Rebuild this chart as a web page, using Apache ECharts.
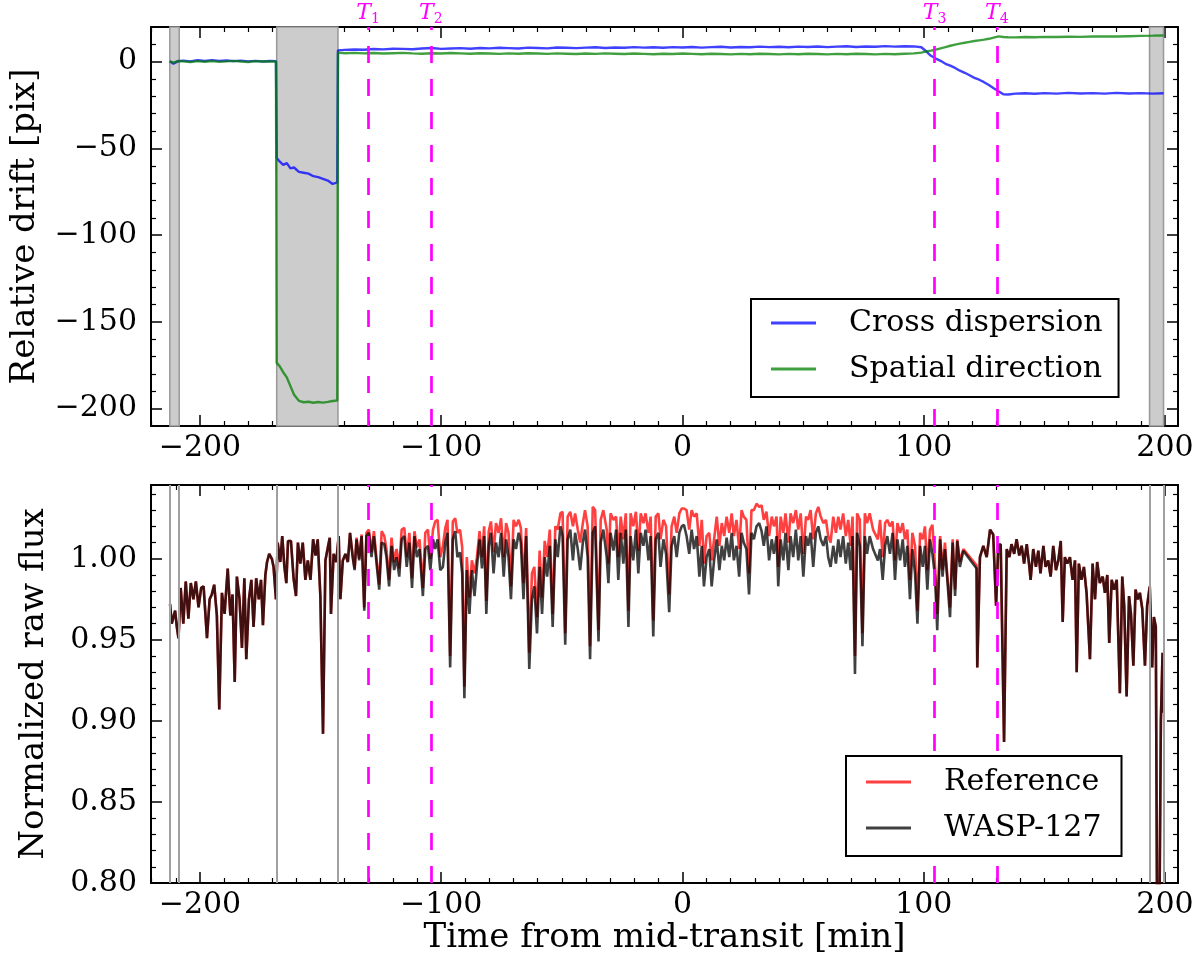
<!DOCTYPE html>
<html>

<head>
	<meta charset="UTF-8">
	<title>WASP-127 drift and raw flux</title>
	<style>
		html, body {
			margin: 0;
			padding: 0;
			background: #fff;
		}
		#chart {
			width: 1200px;
			height: 977px;
		}
	</style>
	<script src="https://cdn.jsdelivr.net/npm/echarts@6/dist/echarts.min.js"></script>
</head>

<body>
	<div id="chart"></div>
	<script>
		// ---- top panel: relative drift [pix] ----
		var driftTime = [
			-212.5, -211, -209, -207, -204, -201, -198, -195, -192, -189,
			-186, -183, -180, -177, -174, -171, -168.5, -168.2, -167, -165.5,
			-164, -162.5, -161, -159, -157, -155, -153, -151, -149, -147,
			-145, -143.1, -142.8, -140, -136, -132, -128, -124, -120, -116,
			-112, -108, -104, -100, -96, -92, -88, -84, -80, -76,
			-72, -68, -64, -60, -56, -52, -48, -44, -40, -36,
			-32, -28, -24, -20, -16, -12, -8, -4, 0, 4,
			8, 12, 16, 20, 24, 28, 32, 36, 40, 44,
			48, 52, 56, 60, 64, 68, 72, 76, 80, 84,
			88, 92, 96, 99, 101, 103, 105, 107, 109, 111,
			113, 115, 117, 119, 121, 123, 125, 127, 129, 131,
			133, 135, 138, 142, 146, 150, 155, 160, 165, 170,
			175, 180, 185, 190, 195, 199.4
		];
		var crossDispersion = [
			0.2, -1.2, 0.3, 0.6, 0.2, 0.8, 0.4, 0.9, 0.5, 0.7,
			0.3, 0.6, 0.2, 0.5, 0.1, 0.4, 0.3, -55.5, -57.5, -59.5,
			-58.5, -61.5, -61, -63.5, -64, -64.5, -66, -66.5, -67.5, -68.5,
			-70.5, -69.5, 6.5, 6.8, 7.0, 6.9, 7.3, 7.1, 7.5, 7.4,
			7.2, 7.6, 7.9, 7.4, 7.6, 7.8, 7.5, 7.9, 7.7, 8.0,
			7.8, 7.6, 8.1, 7.9, 7.7, 8.2, 8.0, 7.8, 8.1, 8.3,
			7.9, 8.2, 8.0, 8.4, 8.1, 8.3, 8.0, 8.4, 8.2, 8.5,
			8.1, 8.4, 8.6, 8.2, 8.5, 8.3, 8.7, 8.4, 8.6, 8.3,
			8.7, 8.5, 8.8, 8.4, 8.7, 8.9, 8.5, 8.8, 8.6, 9.0,
			8.7, 8.9, 8.8, 8.3, 6.0, 3.4, 1.8, 0.5, -1.2, -2.3,
			-3.6, -5.2, -6.4, -7.8, -9.3, -10.4, -11.8, -13.4, -15.3, -17.0,
			-18.8, -18.9, -18.4, -18.2, -18.5, -18.1, -18.4, -18.0, -18.3, -18.1,
			-18.4, -18.0, -18.3, -18.1, -18.4, -18.2
		];
		var spatialDirection = [
			0.1, -0.5, 0.4, 0.2, -0.2, 0.3, 0.0, 0.4, -0.1, 0.2,
			0.5, 0.1, -0.2, 0.3, 0.1, 0.2, 0.1, -173.6, -175.5, -179,
			-182, -187, -192, -195.5, -196.3, -196, -196.6, -196.2, -196.5, -196.1,
			-195.6, -195.3, 5.2, 4.9, 5.1, 4.8, 5.0, 4.7, 4.9, 5.1,
			4.8, 4.6, 4.9, 4.7, 5.0, 4.8, 4.6, 4.9, 4.7, 4.5,
			4.8, 4.6, 4.9, 4.7, 4.5, 4.8, 4.6, 4.4, 4.7, 4.5,
			4.8, 4.6, 4.4, 4.7, 4.5, 4.3, 4.6, 4.4, 4.7, 4.5,
			4.3, 4.6, 4.4, 4.2, 4.5, 4.3, 4.6, 4.4, 4.2, 4.5,
			4.3, 4.6, 4.4, 4.2, 4.5, 4.3, 4.6, 4.4, 4.2, 4.5,
			4.3, 4.6, 4.8, 5.2, 5.9, 6.4, 7.0, 7.7, 8.4, 9.2,
			9.8, 10.4, 10.9, 11.4, 11.9, 12.3, 12.7, 13.2, 13.9, 14.6,
			14.2, 14.1, 14.0, 14.2, 14.1, 14.3, 14.2, 14.4, 14.3, 14.5,
			14.6, 14.5, 14.7, 14.9, 15.0, 15.1
		];

		// ---- bottom panel: normalized raw flux ----
		var fluxTime = [
			-212.4, -211.7, -211.0, -210.3, -209.6, -208.9, -208.0, -206.9, -205.9, -204.8,
			-203.8, -202.7, -201.7, -200.6, -199.5, -198.5, -197.1, -196.0, -195.1, -194.1,
			-193.0, -192.0, -190.9, -189.8, -188.5, -187.4, -186.5, -185.6, -184.7, -183.6,
			-182.6, -181.6, -180.8, -179.7, -178.7, -177.8, -176.7, -175.6, -174.7, -173.9,
			-172.9, -172.2, -171.3, -170.2, -169.5, -168.5, -167.8, -166.7, -165.9, -165.0,
			-164.2, -163.5, -162.3, -161.2, -160.2, -159.4, -158.4, -157.4, -156.3, -155.3,
			-154.2, -153.1, -152.1, -151.2, -150.1, -149.0, -148.0, -147.0, -146.2, -145.7,
			-144.6, -143.5, -142.5, -141.8, -140.8, -139.7, -138.7, -137.8, -136.7, -135.9,
			-135.1, -134.0, -133.0, -131.9, -131.0, -130.0, -128.9, -127.9, -126.8, -125.7,
			-124.7, -123.6, -122.7, -121.6, -120.6, -119.5, -118.5, -117.4, -116.4, -115.3,
			-114.3, -113.2, -112.1, -111.1, -110.1, -109.0, -107.6, -106.6, -105.5, -104.5,
			-103.4, -102.5, -101.5, -100.4, -99.3, -98.3, -97.4, -96.3, -95.2, -94.2,
			-93.3, -92.2, -91.3, -90.4, -89.4, -88.3, -87.3, -86.2, -85.2, -84.1,
			-83.1, -82.2, -81.3, -80.3, -79.4, -78.3, -77.3, -76.2, -75.2, -74.1,
			-73.1, -72.1, -71.1, -70.0, -69.0, -67.9, -67.0, -65.9, -64.8, -63.5,
			-62.4, -61.4, -60.3, -59.2, -58.2, -57.1, -56.1, -55.0, -53.8, -52.7,
			-51.7, -50.6, -49.7, -48.6, -47.6, -46.5, -45.4, -44.5, -43.4, -42.4,
			-41.3, -40.4, -39.3, -38.3, -37.2, -36.2, -34.8, -33.9, -32.8, -31.4,
			-30.7, -29.8, -28.6, -27.5, -26.6, -25.6, -24.5, -23.5, -22.4, -21.5,
			-20.4, -19.3, -18.3, -17.3, -16.2, -15.3, -14.1, -13.2, -12.1, -11.1,
			-10.0, -9.1, -7.9, -6.8, -5.5, -4.5, -3.4, -2.4, -1.3, -0.3,
			0.6, 1.7, 2.8, 3.8, 4.8, 5.9, 7.0, 8.0, 8.9, 10.0,
			11.1, 12.1, 13.1, 14.2, 15.3, 16.3, 17.3, 18.3, 19.4, 20.4,
			21.3, 22.4, 23.5, 24.5, 25.4, 26.5, 27.6, 28.6, 29.6, 30.7,
			31.8, 32.8, 33.7, 34.8, 35.9, 37.0, 37.9, 39.0, 39.7, 40.7,
			41.8, 42.7, 43.9, 44.8, 45.9, 47.0, 48.0, 49.0, 50.1, 51.2,
			52.1, 53.1, 54.2, 55.3, 56.3, 57.3, 58.4, 59.5, 60.4, 61.4,
			62.5, 63.6, 64.6, 65.5, 66.6, 67.7, 68.7, 69.7, 70.5, 71.5,
			72.4, 73.5, 74.6, 75.6, 76.5, 77.6, 79.0, 81.0, 81.9, 83.0,
			84.0, 84.9, 86.0, 87.1, 88.1, 89.1, 90.2, 91.3, 92.2, 93.2,
			94.3, 95.3, 96.4, 97.4, 98.5, 99.6, 100.5, 101.5, 102.6, 103.6,
			104.7, 105.6, 106.8, 107.8, 108.8, 109.8, 110.9, 112.0, 113.0, 113.9,
			115.0, 116.4, 121.9, 122.2, 123.3, 124.7, 126.1, 127.5, 128.8, 130.0,
			130.9, 131.9, 133.3, 134.4, 135.5, 136.4, 137.5, 138.5, 139.6, 140.6,
			141.6, 142.7, 143.8, 144.3, 145.4, 146.5, 147.5, 148.4, 149.6, 150.5,
			151.6, 152.6, 153.7, 154.8, 155.8, 156.8, 157.6, 158.5, 159.5, 160.6,
			161.7, 162.7, 163.4, 164.3, 165.4, 166.4, 167.5, 168.9, 170.0, 171.0,
			171.9, 173.0, 174.2, 175.1, 176.1, 176.9, 177.9, 178.9, 180.0, 181.3,
			182.3, 183.1, 184.1, 185.1, 185.9, 186.9, 187.8, 188.7, 189.6, 190.6,
			191.7, 192.6, 193.7, 194.7, 195.4, 196.2, 196.9, 197.6, 198.3, 199.0,
			199.4
		];
		var waspFlux = [
			0.972, 0.960, 0.959, 0.968, 0.958, 0.951, 0.982, 0.960, 0.986, 0.963,
			0.985, 0.975, 0.986, 0.970, 0.982, 0.983, 0.951, 0.975, 0.978, 0.984,
			0.965, 0.907, 0.979, 0.966, 0.994, 0.965, 0.978, 0.924, 0.989, 0.975,
			0.945, 0.988, 0.938, 0.975, 0.987, 0.958, 0.988, 0.975, 0.987, 0.959,
			0.990, 0.998, 1.003, 1.000, 0.995, 0.975, 1.010, 0.998, 1.014, 0.995,
			0.985, 1.011, 1.011, 0.988, 0.977, 1.010, 0.997, 1.010, 0.987, 0.999,
			0.987, 1.012, 1.002, 1.012, 0.977, 0.892, 0.999, 1.007, 1.013, 0.966,
			1.003, 0.998, 1.014, 0.975, 0.999, 1.003, 0.998, 1.016, 1.001, 0.993,
			1.012, 0.999, 1.014, 0.968, 1.014, 1.016, 1.001, 1.014, 0.997, 0.981,
			1.010, 1.009, 1.001, 0.983, 1.008, 0.993, 1.001, 0.989, 1.012, 1.014,
			0.995, 1.010, 0.982, 1.014, 1.001, 1.006, 0.977, 1.006, 1.008, 0.993,
			1.012, 1.006, 1.012, 0.993, 0.995, 1.010, 1.016, 0.933, 1.012, 1.017,
			1.001, 1.004, 0.991, 0.914, 0.993, 0.966, 0.993, 0.977, 0.995, 1.012,
			0.994, 1.014, 0.966, 1.008, 1.016, 0.991, 1.010, 1.001, 1.016, 0.989,
			1.012, 1.001, 0.975, 1.012, 1.006, 1.016, 1.010, 0.975, 1.014, 0.932,
			0.975, 0.983, 0.954, 0.995, 0.966, 1.001, 0.989, 1.008, 0.958, 1.012,
			1.001, 1.020, 1.014, 0.947, 1.012, 1.018, 0.999, 1.016, 1.006, 0.993,
			1.010, 1.018, 1.001, 0.938, 1.016, 1.020, 0.949, 1.010, 1.018, 1.001,
			0.985, 1.016, 1.005, 1.018, 0.987, 1.016, 0.997, 1.018, 0.958, 1.014,
			0.999, 1.018, 0.991, 1.016, 1.008, 1.018, 0.999, 1.014, 0.952, 1.012,
			1.016, 0.995, 1.012, 1.003, 0.967, 1.008, 1.014, 1.001, 1.016, 1.020,
			1.021, 1.014, 1.003, 1.018, 1.006, 1.014, 0.989, 1.008, 0.983, 1.001,
			1.006, 0.983, 0.999, 1.012, 0.993, 1.008, 0.999, 1.013, 1.001, 1.016,
			0.999, 1.008, 0.989, 1.016, 1.010, 1.006, 0.978, 1.016, 1.012, 1.020,
			1.022, 1.017, 1.008, 1.020, 0.999, 1.012, 1.003, 1.014, 0.983, 1.012,
			0.999, 1.016, 0.993, 1.014, 1.001, 1.018, 0.999, 1.014, 0.989, 1.014,
			1.008, 1.016, 0.995, 1.016, 1.020, 1.012, 1.008, 1.014, 1.001, 0.995,
			1.008, 0.997, 1.012, 1.001, 1.014, 0.997, 1.010, 0.993, 1.014, 0.929,
			1.016, 1.008, 0.946, 1.014, 1.003, 1.014, 1.006, 0.999, 1.006, 0.987,
			1.008, 1.014, 1.003, 1.016, 0.987, 1.012, 0.999, 1.012, 0.995, 1.008,
			0.975, 1.006, 0.991, 0.960, 1.008, 0.995, 1.008, 0.981, 1.012, 1.003,
			0.989, 0.956, 1.012, 0.989, 1.006, 0.987, 0.964, 1.010, 0.977, 1.011,
			0.995, 1.005, 0.994, 0.933, 1.001, 1.008, 1.001, 1.018, 1.015, 0.971,
			1.008, 1.009, 0.887, 1.006, 1.001, 1.009, 1.003, 1.012, 1.002, 1.008,
			0.997, 1.009, 0.995, 0.987, 1.006, 0.995, 1.005, 0.991, 1.008, 0.995,
			0.999, 0.989, 1.008, 0.993, 0.999, 1.011, 0.961, 1.001, 0.997, 1.001,
			0.987, 0.999, 0.930, 0.997, 0.987, 0.995, 0.979, 0.938, 0.997, 0.975,
			0.998, 0.985, 0.989, 0.979, 0.990, 0.948, 0.987, 0.981, 0.987, 0.917,
			0.989, 0.971, 0.915, 0.977, 0.966, 0.934, 0.981, 0.975, 0.979, 0.969,
			0.934, 0.971, 0.983, 0.933, 0.964, 0.958, 0.720, 0.760, 0.900, 0.942,
			0.905
		];
		var referenceFlux = [
			0.972, 0.960, 0.959, 0.968, 0.958, 0.951, 0.982, 0.960, 0.986, 0.963,
			0.985, 0.975, 0.986, 0.970, 0.982, 0.983, 0.951, 0.975, 0.978, 0.984,
			0.965, 0.907, 0.979, 0.966, 0.994, 0.965, 0.978, 0.924, 0.989, 0.975,
			0.945, 0.988, 0.938, 0.975, 0.987, 0.958, 0.988, 0.975, 0.987, 0.959,
			0.990, 0.998, 1.003, 1.000, 0.995, 0.975, 1.010, 0.998, 1.014, 0.995,
			0.985, 1.011, 1.011, 0.988, 0.977, 1.010, 0.997, 1.010, 0.987, 0.999,
			0.987, 1.012, 1.002, 1.012, 0.977, 0.892, 0.999, 1.007, 1.013, 0.966,
			1.003, 0.998, 1.014, 0.975, 0.999, 1.003, 0.998, 1.016, 1.002, 0.994,
			1.013, 1.000, 1.015, 0.970, 1.016, 1.018, 1.004, 1.017, 1.000, 0.984,
			1.017, 1.014, 1.006, 0.987, 1.013, 0.998, 1.006, 0.994, 1.018, 1.019,
			1.001, 1.016, 0.988, 1.017, 1.007, 1.012, 0.982, 1.016, 1.018, 1.000,
			1.018, 1.023, 1.024, 1.001, 1.008, 1.019, 1.024, 0.940, 1.023, 1.025,
			1.016, 1.018, 1.007, 0.921, 1.001, 0.976, 0.999, 0.991, 1.001, 1.017,
			1.001, 1.020, 0.974, 1.017, 1.023, 1.004, 1.022, 1.016, 1.025, 1.001,
			1.022, 1.016, 0.983, 1.024, 1.020, 1.024, 1.019, 0.985, 1.019, 0.942,
			0.991, 0.995, 0.964, 1.005, 0.976, 1.011, 1.001, 1.018, 0.966, 1.020,
			1.018, 1.028, 1.029, 0.954, 1.026, 1.029, 1.020, 1.028, 1.018, 1.010,
			1.022, 1.030, 1.020, 0.946, 1.032, 1.030, 0.956, 1.024, 1.030, 1.018,
			0.997, 1.028, 1.024, 1.026, 1.001, 1.026, 1.012, 1.028, 0.968, 1.028,
			1.020, 1.029, 1.005, 1.028, 1.022, 1.028, 1.016, 1.026, 0.962, 1.026,
			1.028, 1.012, 1.024, 1.020, 0.978, 1.020, 1.026, 1.016, 1.028, 1.031,
			1.031, 1.030, 1.018, 1.030, 1.026, 1.028, 1.008, 1.024, 0.997, 1.014,
			1.016, 0.999, 1.012, 1.026, 1.008, 1.022, 1.014, 1.026, 1.016, 1.028,
			1.014, 1.024, 1.006, 1.030, 1.026, 1.024, 0.991, 1.030, 1.030, 1.034,
			1.032, 1.033, 1.024, 1.029, 1.014, 1.026, 1.020, 1.026, 0.995, 1.026,
			1.016, 1.028, 1.010, 1.028, 1.022, 1.030, 1.018, 1.028, 1.003, 1.026,
			1.024, 1.030, 1.012, 1.028, 1.032, 1.026, 1.022, 1.024, 1.014, 1.010,
			1.026, 1.016, 1.026, 1.018, 1.028, 1.014, 1.024, 1.008, 1.026, 0.940,
			1.028, 1.024, 0.954, 1.028, 1.022, 1.028, 1.018, 1.012, 1.024, 1.001,
			1.022, 1.024, 1.020, 1.023, 0.999, 1.022, 1.016, 1.022, 1.012, 1.018,
			0.987, 1.016, 1.008, 0.968, 1.016, 1.012, 1.020, 0.993, 1.018, 1.021,
			0.995, 0.966, 1.014, 0.993, 1.010, 0.989, 0.970, 1.012, 0.981, 1.012,
			0.998, 1.006, 0.996, 0.933, 1.001, 1.008, 1.001, 1.018, 1.015, 0.971,
			1.008, 1.009, 0.887, 1.006, 1.001, 1.009, 1.003, 1.012, 1.002, 1.008,
			0.997, 1.009, 0.995, 0.987, 1.006, 0.995, 1.005, 0.991, 1.008, 0.995,
			0.999, 0.989, 1.008, 0.993, 0.999, 1.011, 0.961, 1.001, 0.997, 1.001,
			0.987, 0.999, 0.930, 0.997, 0.987, 0.995, 0.979, 0.938, 0.997, 0.975,
			0.998, 0.985, 0.989, 0.979, 0.990, 0.948, 0.987, 0.981, 0.987, 0.917,
			0.989, 0.971, 0.915, 0.977, 0.966, 0.934, 0.981, 0.975, 0.979, 0.969,
			0.934, 0.971, 0.983, 0.933, 0.964, 0.958, 0.720, 0.760, 0.900, 0.942,
			0.905
		];

		// contact points T1..T4 and the excluded (grey) time ranges
		var contactTimes = [-130.3, -104.3, 104.5, 130.3];
		var contactNames = ['1', '2', '3', '4'];
		var excludedRanges = [[-212.5, -208.6], [-168.2, -142.8], [193.6, 199.4]];

		var FONT = 'DejaVu Serif';
		var X_MIN = -220.3, X_MAX = 205.4;

		function pairs(xs, ys) {
			var out = [];
			for (var i = 0; i < xs.length; i++) out.push([xs[i], ys[i]]);
			return out;
		}

		function minusFmt(v) {
			return v < 0 ? '\u2212' + Math.abs(v) : String(v);
		}

		var tickStyle = { inside: true, length: 11, lineStyle: { color: '#000', width: 1.5 } };

		function makeX(grid, pos, labels, name) {
			return {
				type: 'value', gridIndex: grid, position: pos,
				min: X_MIN, max: X_MAX, minInterval: 100, maxInterval: 100,
				axisLine: { onZero: false, lineStyle: { color: '#000', width: 2 } },
				axisTick: tickStyle,
				minorTick: { show: true, splitNumber: 10, length: 5, lineStyle: { color: '#000', width: 1.2 } },
				splitLine: { show: false },
				axisLabel: {
					show: labels, showMinLabel: false, showMaxLabel: false, margin: 7,
					color: '#000', fontFamily: FONT, fontSize: 30, formatter: minusFmt
				},
				name: name || '', nameLocation: 'middle', nameGap: 22,
				nameTextStyle: { color: '#000', fontFamily: FONT, fontSize: 34 }
			};
		}

		function makeY(grid, pos, labels, range, step, minor, fmt, name, gap) {
			return {
				type: 'value', gridIndex: grid, position: pos,
				min: range[0], max: range[1], minInterval: step, maxInterval: step,
				axisLine: { onZero: false, lineStyle: { color: '#000', width: 2 } },
				axisTick: tickStyle,
				minorTick: { show: true, splitNumber: minor, length: 5, lineStyle: { color: '#000', width: 1.2 } },
				splitLine: { show: false },
				axisLabel: {
					show: labels, showMinLabel: grid === 1, showMaxLabel: false, margin: 14,
					color: '#000', fontFamily: FONT, fontSize: 30, formatter: fmt
				},
				name: name || '', nameLocation: 'middle', nameRotate: 90, nameGap: gap || 0,
				nameTextStyle: { color: '#000', fontFamily: FONT, fontSize: 34 }
			};
		}

		function contactLines(withLabels) {
			return {
				silent: true,
				symbol: ['none', 'none'],
				lineStyle: { color: '#ff00ff', width: 2.7, type: [17, 16], opacity: 1 },
				label: {
					show: withLabels, position: 'end', distance: -3,
					formatter: function (p) { return '{t|T}{s|' + p.name + '}'; },
					rich: {
						t: { fontFamily: FONT, fontStyle: 'italic', fontSize: 22, color: '#ff00ff', lineHeight: 33 },
						s: { fontFamily: FONT, fontSize: 14, color: '#ff00ff', lineHeight: 22, padding: [11, 0, 0, 0] }
					}
				},
				data: contactTimes.map(function (t, i) { return { xAxis: t, name: contactNames[i] }; })
			};
		}

		var greyLines = [];
		excludedRanges.forEach(function (r) {
			greyLines.push({ xAxis: r[0] }, { xAxis: r[1] });
		});

		function legendFor(names, left, top, pad) {
			return {
				data: names.map(function (n) { return { name: n, icon: 'rect' }; }),
				orient: 'vertical', left: left, top: top,
				itemWidth: 45, itemHeight: 3, itemGap: 10,
				selectedMode: false,
				backgroundColor: '#fff', borderColor: '#000', borderWidth: 2, borderRadius: 0,
				padding: pad, z: 20,
				textStyle: { fontFamily: FONT, fontSize: 30, color: '#000', lineHeight: 36, padding: [0, 0, 0, 28] }
			};
		}

		var chart = echarts.init(document.getElementById('chart'));
		chart.setOption({
			animation: false,
			backgroundColor: '#fff',
			grid: [
				{ left: 151, top: 27, width: 1027, height: 399 },
				{ left: 151, top: 485, width: 1027, height: 398 }
			],
			legend: [
				legendFor(['Cross dispersion', 'Spatial direction'], 751, 299, [6, 16, 10, 20]),
				legendFor(['Reference', 'WASP-127'], 846, 756, [8, 20, 10, 20])
			],
			xAxis: [
				makeX(0, 'bottom', true),
				makeX(0, 'top', false),
				makeX(1, 'bottom', true, 'Time from mid-transit [min]'),
				makeX(1, 'top', false)
			],
			yAxis: [
				makeY(0, 'left', true, [-210, 20], 50, 5, minusFmt, 'Relative drift [pix]', 109),
				makeY(0, 'right', false, [-210, 20], 50, 5, minusFmt),
				makeY(1, 'left', true, [0.8, 1.0455], 0.05, 5, function (v) { return v.toFixed(2); }, 'Normalized raw flux', 100),
				makeY(1, 'right', false, [0.8, 1.0455], 0.05, 5, function (v) { return v.toFixed(2); })
			],
			series: [
				{
					name: 'Cross dispersion', type: 'line', xAxisIndex: 0, yAxisIndex: 0,
					data: pairs(driftTime, crossDispersion),
					symbol: 'none', showSymbol: false,
					lineStyle: { color: 'rgba(0,0,255,0.75)', width: 2.4 },
					itemStyle: { color: 'rgba(0,0,255,0.75)' },
					markArea: {
						silent: true,
						itemStyle: { color: '#cccccc', borderColor: '#999999', borderWidth: 1.5 },
						data: excludedRanges.map(function (r) { return [{ xAxis: r[0] }, { xAxis: r[1] }]; })
					},
					markLine: contactLines(true)
				},
				{
					name: 'Spatial direction', type: 'line', xAxisIndex: 0, yAxisIndex: 0,
					data: pairs(driftTime, spatialDirection),
					symbol: 'none', showSymbol: false,
					lineStyle: { color: 'rgba(0,128,0,0.75)', width: 2.4 },
					itemStyle: { color: 'rgba(0,128,0,0.75)' }
				},
				{
					name: 'Reference', type: 'line', xAxisIndex: 2, yAxisIndex: 2,
					data: pairs(fluxTime, referenceFlux),
					symbol: 'none', showSymbol: false,
					lineStyle: { color: 'rgba(255,0,0,0.75)', width: 2.6 },
					itemStyle: { color: 'rgba(255,0,0,0.75)' },
					markLine: {
						silent: true,
						symbol: ['none', 'none'],
						label: { show: false },
						lineStyle: { color: '#a0a0a0', width: 2, type: 'solid' },
						data: greyLines
					}
				},
				{
					name: 'WASP-127', type: 'line', xAxisIndex: 2, yAxisIndex: 2,
					data: pairs(fluxTime, waspFlux),
					symbol: 'none', showSymbol: false,
					lineStyle: { color: 'rgba(0,0,0,0.75)', width: 2.6 },
					itemStyle: { color: 'rgba(0,0,0,0.75)' },
					markLine: contactLines(false)
				}
			]
		});
	</script>
</body>

</html>
